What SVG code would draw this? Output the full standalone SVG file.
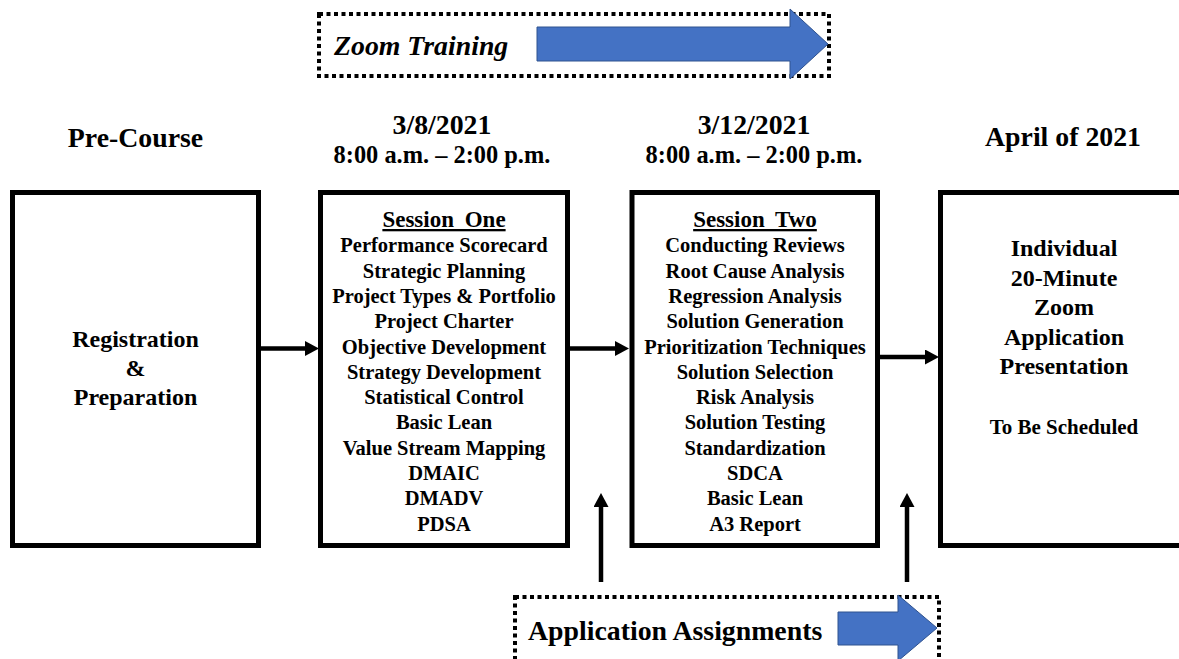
<svg xmlns="http://www.w3.org/2000/svg" width="1179" height="659" viewBox="0 0 1179 659">
<defs>
<style>
.box{fill:#fff;stroke:#000;stroke-width:5}
.dot{fill:none;stroke:#000;stroke-width:4;stroke-dasharray:4 3.5}
.t{font-family:"Liberation Serif","Times New Roman",serif;font-weight:bold;fill:#000;text-anchor:middle}
.h{font-size:27.8px}
.tm{font-size:24.4px}
.b{font-size:20.5px}
.sh{font-size:23px;word-spacing:5px}
.big{font-size:24px}
.conn{stroke:#000;stroke-width:4.5;fill:none}
.blue{fill:#4472C4;stroke:#2F528F;stroke-width:1}
</style>
<marker id="ah" markerUnits="userSpaceOnUse" markerWidth="14" markerHeight="15" refX="0" refY="7.5" orient="auto" viewBox="0 0 14 15">
<path d="M0,0 L14,7.5 L0,15 z" fill="#000"/>
</marker>
</defs>
<rect width="1179" height="659" fill="#fff"/>

<g id="zoom-training">
<rect class="dot" x="319" y="14" width="510" height="62"/>
<text class="t h" x="334" y="55" style="text-anchor:start;font-style:italic">Zoom Training</text>
<path class="blue" d="M537,27 L790,27 L790,9 L828,44 L790,79 L790,61 L537,61 z"/>
</g>

<g id="headers">
<text class="t h" x="135.5" y="147">Pre-Course</text>
<text class="t h" x="442" y="134">3/8/2021</text>
<text class="t tm" x="442" y="163">8:00 a.m. – 2:00 p.m.</text>
<text class="t h" x="754" y="134">3/12/2021</text>
<text class="t tm" x="754" y="163">8:00 a.m. – 2:00 p.m.</text>
<text class="t h" x="1063" y="146">April of 2021</text>
</g>

<g id="pre-course">
<rect class="box" x="12.5" y="192.5" width="246" height="353"/>
<text class="t big" x="135.5" y="347">Registration</text>
<text class="t big" x="135.5" y="376">&amp;</text>
<text class="t big" x="135.5" y="405">Preparation</text>
</g>

<g id="session-one">
<rect class="box" x="320.5" y="192.5" width="247" height="353"/>
<text class="t sh" x="444" y="227" text-decoration="underline">Session One</text>
<text class="t b" x="444" y="252.3">Performance Scorecard</text>
<text class="t b" x="444" y="277.6">Strategic Planning</text>
<text class="t b" x="444" y="302.9">Project Types &amp; Portfolio</text>
<text class="t b" x="444" y="328.2">Project Charter</text>
<text class="t b" x="444" y="353.5">Objective Development</text>
<text class="t b" x="444" y="378.8">Strategy Development</text>
<text class="t b" x="444" y="404.1">Statistical Control</text>
<text class="t b" x="444" y="429.4">Basic Lean</text>
<text class="t b" x="444" y="454.7">Value Stream Mapping</text>
<text class="t b" x="444" y="480">DMAIC</text>
<text class="t b" x="444" y="505.3">DMADV</text>
<text class="t b" x="444" y="530.6">PDSA</text>
</g>

<g id="session-two">
<rect class="box" x="632" y="192.5" width="245.5" height="353"/>
<text class="t sh" x="755" y="227" text-decoration="underline">Session Two</text>
<text class="t b" x="755" y="252.3">Conducting Reviews</text>
<text class="t b" x="755" y="277.6">Root Cause Analysis</text>
<text class="t b" x="755" y="302.9">Regression Analysis</text>
<text class="t b" x="755" y="328.2">Solution Generation</text>
<text class="t b" x="755" y="353.5">Prioritization Techniques</text>
<text class="t b" x="755" y="378.8">Solution Selection</text>
<text class="t b" x="755" y="404.1">Risk Analysis</text>
<text class="t b" x="755" y="429.4">Solution Testing</text>
<text class="t b" x="755" y="454.7">Standardization</text>
<text class="t b" x="755" y="480">SDCA</text>
<text class="t b" x="755" y="505.3">Basic Lean</text>
<text class="t b" x="755" y="530.6">A3 Report</text>
</g>

<g id="presentation">
<rect class="box" x="940.5" y="192.5" width="250" height="353"/>
<text class="t big" x="1064" y="256">Individual</text>
<text class="t big" x="1064" y="285.5">20-Minute</text>
<text class="t big" x="1064" y="315">Zoom</text>
<text class="t big" x="1064" y="344.5">Application</text>
<text class="t big" x="1064" y="374">Presentation</text>
<text class="t" x="1064" y="434" style="font-size:21px">To Be Scheduled</text>
</g>

<g id="application-assignments">
<rect class="dot" x="515" y="597" width="424" height="80"/>
<text class="t h" x="528" y="640" style="text-anchor:start">Application Assignments</text>
<path class="blue" d="M838,612 L898,612 L898,595 L937,628 L898,661 L898,645 L838,645 z"/>
</g>

<g id="connectors">
<line class="conn" x1="261" y1="348.5" x2="305" y2="348.5" marker-end="url(#ah)"/>
<line class="conn" x1="570" y1="348.5" x2="615" y2="348.5" marker-end="url(#ah)"/>
<line class="conn" x1="880" y1="357" x2="925" y2="357" marker-end="url(#ah)"/>
<line class="conn" x1="601" y1="582" x2="601" y2="507" marker-end="url(#ah)"/>
<line class="conn" x1="907" y1="582" x2="907" y2="507" marker-end="url(#ah)"/>
</g>
</svg>
